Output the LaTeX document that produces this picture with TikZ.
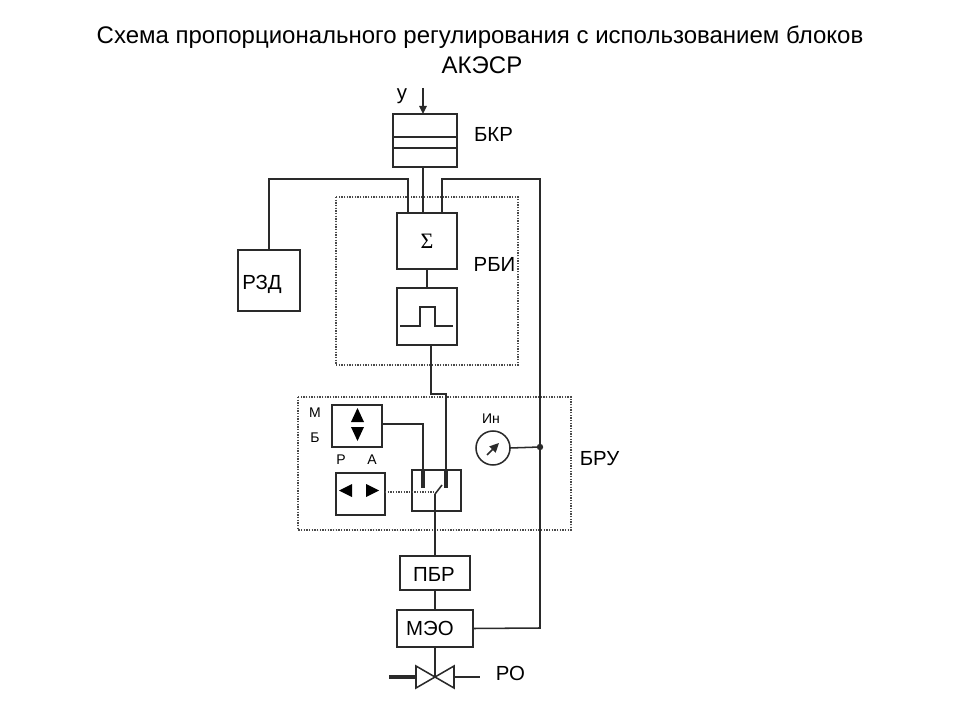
\documentclass[tikz,border=0pt]{standalone}
\usepackage{fontspec}
\setmainfont{Liberation Sans}
\newfontfamily\sigfont{Liberation Serif}
\usetikzlibrary{arrows.meta,calc}
\definecolor{ink}{HTML}{2A2A2A}
\tikzset{
  x=0.75pt,y=-0.75pt,
  line/.style={draw=ink,line width=1.15pt},
  blockbox/.style 2 args={draw=ink,line width=1.15pt,inner sep=0pt,outer sep=0pt,fill=none,minimum width=#1*0.75pt,minimum height=#2*0.75pt},
  frame/.style={draw=ink!85,line width=1pt,densely dotted},
  lab/.style={inner sep=0pt,text=black,font=\fontsize{15.3}{17}\selectfont},
  small/.style={inner sep=0pt,text=black,font=\fontsize{10.5}{12}\selectfont},
  solidtri/.style={fill=black,draw=none}
}
\begin{document}
\begin{tikzpicture}
\useasboundingbox (0,0) rectangle (960,720);
% title
\node[inner sep=0pt,font=\fontsize{18}{20}\selectfont] (title1) at (480,37.5) {Схема пропорционального регулирования с использованием блоков};
\node[inner sep=0pt,font=\fontsize{18}{20}\selectfont] (title2) at (482,65) {АКЭСР};
% dashed frames
\draw[frame] (336,197) rectangle (518,365);
\draw[frame] (298,397) rectangle (571,530);
% blocks
\node[blockbox={64}{53}] (bkr) at (425,140.5) {};
\draw[line] (bkr.west |- 0,137) -- (bkr.east |- 0,137);
\draw[line] (bkr.west |- 0,148) -- (bkr.east |- 0,148);
\node[blockbox={60}{56},font=\sigfont\fontsize{16.5}{18}\selectfont] (sum) at (427,241) {Σ};
\node[blockbox={60}{57}] (pulse) at (427,316.5) {};
\node[blockbox={62}{61}] (rzd) at (269,280.5) {};
\node[blockbox={50}{42}] (mb) at (357,426) {};
\node[blockbox={49}{42}] (ra) at (360.5,494) {};
\node[blockbox={49}{41}] (sw) at (436.5,490.5) {};
\node[blockbox={70}{34}] (pbr) at (435,573) {};
\node[blockbox={76}{37}] (meo) at (435,628.5) {};
\node[draw=ink,line width=1.15pt,circle,inner sep=0pt,outer sep=0pt,minimum size=25.5pt] (meter) at (493,448) {};
% labels
\node[lab] (ly) at (402,96) {у};
\node[lab] (lbkr) at (493.5,134) {БКР};
\node[lab] (lrbi) at (494.5,264) {РБИ};
\node[lab] (lrzd) at (262,284) {РЗД};
\node[lab] (lbru) at (599.5,459) {БРУ};
\node[lab] (lpbr) at (434,574) {ПБР};
\node[lab] (lmeo) at (430,628) {МЭО};
\node[lab] (lro) at (510.5,673) {РО};
\node[small] (lm) at (315,413) {М};
\node[small] (lb) at (315,438) {Б};
\node[small] (lr) at (341,460) {Р};
\node[small] (la) at (372,460) {А};
\node[small] (lin) at (491,419) {Ин};
% named points
\coordinate (ytop) at (423,88);
\coordinate (c1) at (408,179);
\coordinate (c2) at (442,179);
\coordinate (c3) at (540,179);
\coordinate (j1) at (540,447);
\coordinate (c4) at (540,628);
\coordinate (p1) at (431,394);
\coordinate (p2) at (446,394);
\coordinate (p3) at (446,470);
\coordinate (p4) at (446,488);
\coordinate (q1) at (423,424);
\coordinate (q2) at (423,470);
\coordinate (q3) at (423,488);
\coordinate (s1) at (435,494);
\coordinate (s2) at (442,485);
\coordinate (v) at (435,677);
\coordinate (vl) at (416,677);
\coordinate (vr) at (454,677);
\coordinate (pl) at (389,677);
\coordinate (pr) at (480,677);
% connectors
\draw[line,-{Triangle[length=6pt,width=5.5pt]}] (ytop) -- (ytop |- bkr.north);
\draw[line] (bkr.south -| 423,0) -- (sum.north -| 423,0);
\draw[line] (c1 |- sum.north) -- (c1) -| (rzd.north);
\draw[line] (sum.north -| c2) -- (c2) -- (c3) -- (c4) -- (meo.east);
\draw[line] (meter.east) -- (j1);
\fill[ink] (j1) circle (2.4pt);
\draw[line] (sum.south) -- (pulse.north);
\draw[line] (pulse.south -| p1) -- (p1) -- (p2) -- (p3);
\draw[line] (mb.east |- q1) -- (q1) -- (q2);
\draw[draw=ink,line width=2.4pt] (q2) -- (q3);
\draw[draw=ink,line width=2.4pt] (p3) -- (p4);
\draw[line] (s1) -- (s2);
\draw[line] (s1) -- (s1 |- pbr.north);
\draw[frame] (ra.east |- 0,492) -- (435,492);
\draw[line] (pbr.south) -- (meo.north);
\draw[line] (meo.south) -- (v);
% pulse symbol
\draw[line] (400,326) -- (420,326) -- (420,307) -- (435,307) -- (435,326) -- (453,326);
% valve
\draw[line] (vl |- 0,666) -- (vr |- 0,688) -- (vr |- 0,666) -- (vl |- 0,688) -- cycle;
\draw[draw=ink,line width=2.4pt] (pl) -- (vl);
\draw[draw=ink,line width=1.4pt] (vr) -- (pr);
% triangles in control blocks
\fill[solidtri] (357.5,408) -- (364,422) -- (351,422) -- cycle;
\fill[solidtri] (357.5,441) -- (364,427) -- (351,427) -- cycle;
\fill[solidtri] (339,490.5) -- (352,484) -- (352,497) -- cycle;
\fill[solidtri] (379,490.5) -- (366,484) -- (366,497) -- cycle;
% meter needle
\draw[line,-{Triangle[length=7pt,width=6.5pt]}] (487,455) -- (499,443);
\end{tikzpicture}
\end{document}
